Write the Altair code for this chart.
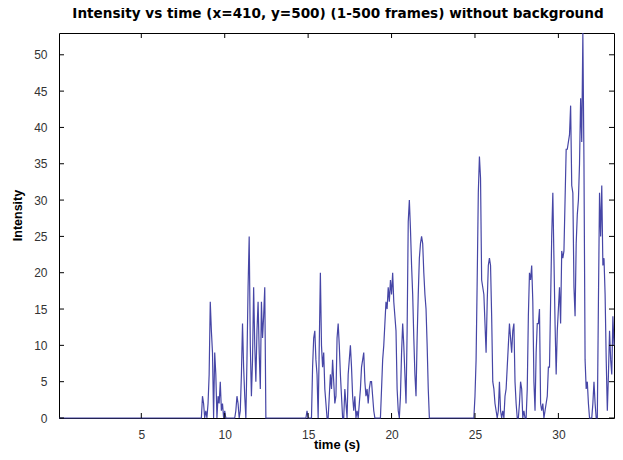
import altair as alt
import pandas as pd

# ---- data (frame index -> intensity) ----
FPS = 15
N_FRAMES = 500

burst1_start = 128
burst1 = [0, 0, 3, 2, 0, 1, 0, 2, 6, 16, 12, 9, 0, 9, 6, 0, 3, 2, 5, 1, 2, 0, 1, 0]

burst2_start = 159
burst2 = [0, 1, 3, 2, 0, 1, 6, 13, 7, 3, 0, 8, 18, 25, 10, 3, 8, 18, 10, 5,
          12, 16, 9, 4, 16, 11, 14, 18, 0]

burst3_start = 223
burst3 = [0, 1, 0, 0, 0, 0, 7, 11, 12, 8, 6, 0, 10, 20, 10, 7, 9, 4, 2, 0,
          0, 3, 6, 4, 8, 5, 2, 3, 11, 13, 10, 6, 3, 0, 0, 4, 2, 0, 6, 8,
          10, 7, 3, 1, 3, 0, 1, 0, 2, 4, 7, 8, 9, 5, 3, 4, 2, 4, 5, 5,
          3, 1, 0]

burst4_start = 289
burst4 = [0, 0, 4, 8, 10, 13, 16, 15, 18, 16, 19, 17, 20, 16, 14, 12, 4, 1, 0, 3,
          9, 13, 10, 6, 2, 12, 27, 30, 26, 21, 17, 11, 6, 3, 11, 17, 22, 24, 25, 24,
          20, 17, 15, 10, 4, 0]

burst5_start = 374
burst5 = [0, 3, 8, 19, 31, 36, 33, 19, 18, 17, 13, 9, 16, 21, 22, 21, 14, 5, 4, 2,
          1, 0, 1, 5, 1, 0, 1, 0, 3, 4, 7, 10, 13, 11, 9, 12, 13, 5, 2, 0,
          0, 2, 5, 4, 0, 1, 0, 0, 4, 14, 20, 19, 21, 16, 5, 1, 9, 13, 13, 15,
          2, 1, 2, 0, 1, 2, 3, 7, 7, 16, 25, 31, 22, 13, 6, 12, 15, 18, 13, 23,
          22, 23, 30, 37, 37, 38, 39, 43, 32, 31, 18, 14, 24, 28, 30, 35, 44, 38, 53, 35,
          8, 4, 5, 2, 0, 0, 0, 2, 5, 2, 0, 0, 16, 31, 25, 32, 21, 22, 17, 8,
          1, 6, 12, 8, 6, 14, 10]

x_ticks = [5, 10, 15, 20, 25, 30]
y_ticks = [0, 5, 10, 15, 20, 25, 30, 35, 40, 45, 50]

title_text = "Intensity vs time (x=410, y=500) (1-500 frames) without background"

# ---- assemble series ----
intensity = [0] * N_FRAMES
for start, vals in [(burst1_start, burst1), (burst2_start, burst2), (burst3_start, burst3),
                    (burst4_start, burst4), (burst5_start, burst5)]:
    for i, v in enumerate(vals):
        f = start + i
        if 1 <= f <= N_FRAMES:
            intensity[f - 1] = v

df = pd.DataFrame({
    "time": [(k + 1) / FPS for k in range(N_FRAMES)],
    "intensity": intensity,
})

W, H = 555, 385
TICK = 5
FONT = "Liberation Sans"

x_scale = alt.Scale(domain=[1 / FPS, N_FRAMES / FPS], nice=False, zero=False)
y_scale = alt.Scale(domain=[0, 53], nice=False)

x_axis = alt.Axis(values=x_ticks, title="time (s)", grid=False, ticks=False, domain=False,
                  labelFont=FONT, labelFontSize=12, labelColor="#333", labelPadding=11,
                  labelBaseline="top",
                  titleFont=FONT, titleFontSize=13, titleFontWeight="bold", titleColor="#000",
                  titleX=W / 2, titleY=30, titleBaseline="alphabetic", titleAlign="center")
y_axis = alt.Axis(values=y_ticks, title="Intensity", grid=False, ticks=False, domain=False,
                  labelFont=FONT, labelFontSize=12, labelColor="#333", labelPadding=12,
                  titleFont=FONT, titleFontSize=12.5, titleFontWeight="bold", titleColor="#000",
                  titleX=-38, titleY=182, titleBaseline="alphabetic", titleAlign="center",
                  titleAngle=270)

X = alt.X("time:Q", scale=x_scale, axis=x_axis)
Y = alt.Y("intensity:Q", scale=y_scale, axis=y_axis)

line = alt.Chart(df).mark_line(color="#4646a6", strokeWidth=1.2, interpolate="linear").encode(
    x=X, y=Y
)

xt = pd.DataFrame({"time": x_ticks})
yt = pd.DataFrame({"intensity": y_ticks})

tick_bottom = alt.Chart(xt).mark_rule(color="#000", strokeWidth=1).encode(
    x=X, y=alt.value(H), y2=alt.value(H - TICK))
tick_top = alt.Chart(xt).mark_rule(color="#000", strokeWidth=1).encode(
    x=X, y=alt.value(0), y2=alt.value(TICK))
tick_left = alt.Chart(yt).mark_rule(color="#000", strokeWidth=1).encode(
    y=Y, x=alt.value(0), x2=alt.value(TICK))
tick_right = alt.Chart(yt).mark_rule(color="#000", strokeWidth=1).encode(
    y=Y, x=alt.value(W), x2=alt.value(W - TICK))

title = alt.Chart(pd.DataFrame({"label": [title_text]})).mark_text(
    font="DejaVu Sans", fontSize=13.6, fontWeight="bold", color="#000",
    align="center", baseline="alphabetic"
).encode(text="label:N", x=alt.value(279), y=alt.value(-15))

chart = alt.layer(line, tick_bottom, tick_top, tick_left, tick_right, title).properties(
    width=W,
    height=H,
    autosize=alt.AutoSizeParams(type="none"),
    padding={"left": 51, "top": 25, "right": 1, "bottom": 34},
    background="white",
).configure_view(stroke="#000", strokeWidth=1)

chart.save("out.html", embed_options={"renderer": "svg", "actions": False})
